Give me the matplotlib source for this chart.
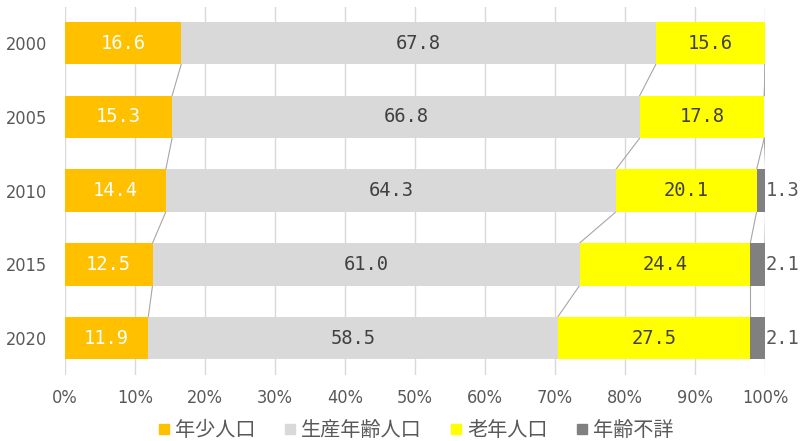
import matplotlib
matplotlib.use('Agg')
from matplotlib import pyplot as plt
from matplotlib import font_manager
from matplotlib.lines import Line2D
import numpy as np

plt.rcParams['font.family'] = ['Noto Sans CJK JP', 'DejaVu Sans']

years = ['2000', '2005', '2010', '2015', '2020']
series_names = ['年少人口', '生産年齢人口', '老年人口', '年齢不詳']
young = [16.6, 15.3, 14.4, 12.5, 11.9]
working = [67.8, 66.8, 64.3, 61.0, 58.5]
elderly = [15.6, 17.8, 20.1, 24.4, 27.5]
unknown = [0.0, 0.0, 1.3, 2.1, 2.1]

colors = ['#FFC000', '#D9D9D9', '#FFFF00', '#808080']
label_colors = ['white', '#404040', '#404040', '#595959']
num_font = ['DejaVu Sans Mono']

# narrow face for the axis labels, if one is around
narrow_fp = font_manager.FontProperties(family='DejaVu Sans', stretch='condensed')
narrow_file = font_manager.findfont(narrow_fp)
if 'Condensed' in narrow_file:
    axis_fp = font_manager.FontProperties(fname=narrow_file, size=13)
else:
    axis_fp = font_manager.FontProperties(family='DejaVu Sans', size=11.5)

fig = plt.figure(figsize=(8, 4.41), dpi=100)
ax = fig.add_axes([65/800, 1-375/441, 700/800, 368/441])

data = np.array([young, working, elderly, unknown])
y = np.arange(len(years))
bh = 0.576
left = np.zeros(len(years))
ends = []
for k in range(len(series_names)):
    vals = data[k]
    ax.barh(y, vals, left=left, height=bh, color=colors[k], zorder=3)
    for i, v in enumerate(vals):
        if v <= 0:
            continue
        if k == 3:
            ax.text(100.1, y[i], '%.1f' % v, ha='left', va='center',
                    fontsize=13.5, color=label_colors[k], family=num_font, zorder=5)
        else:
            ax.text(left[i] + v/2, y[i], '%.1f' % v, ha='center', va='center',
                    fontsize=13.5, color=label_colors[k], family=num_font, zorder=5)
    left = left + vals
    ends.append(left.copy())

# series lines between neighbouring bars
for e in ends:
    for i in range(len(years) - 1):
        ax.plot([e[i], e[i+1]], [y[i] + bh/2, y[i+1] - bh/2],
                color='#A6A6A6', lw=0.8, zorder=2)

ax.set_xlim(0, 100)
ax.set_ylim(4.5, -0.49)
ax.set_xticks(np.arange(0, 101, 10))
ax.set_xticklabels(['%d%%' % t for t in range(0, 101, 10)],
                   fontproperties=axis_fp, color='#595959')
ax.set_yticks(y)
ax.set_yticklabels(years, fontproperties=axis_fp, color='#595959')
ax.tick_params(axis='both', length=0)
ax.tick_params(axis='x', pad=10)
ax.tick_params(axis='y', pad=13)
ax.grid(axis='x', color='#D9D9D9', lw=1, zorder=0)
for s in ax.spines.values():
    s.set_visible(False)

handles = [Line2D([], [], marker='s', ls='', markersize=7, color=c) for c in colors]
fig.legend(handles, series_names, loc='center', bbox_to_anchor=(415/800, 1-431/441),
           ncol=4, frameon=False, fontsize=14.5, labelcolor='#595959',
           handletextpad=0.15, columnspacing=1.3, handlelength=0.8)

fig.savefig('out.png', dpi=100)
